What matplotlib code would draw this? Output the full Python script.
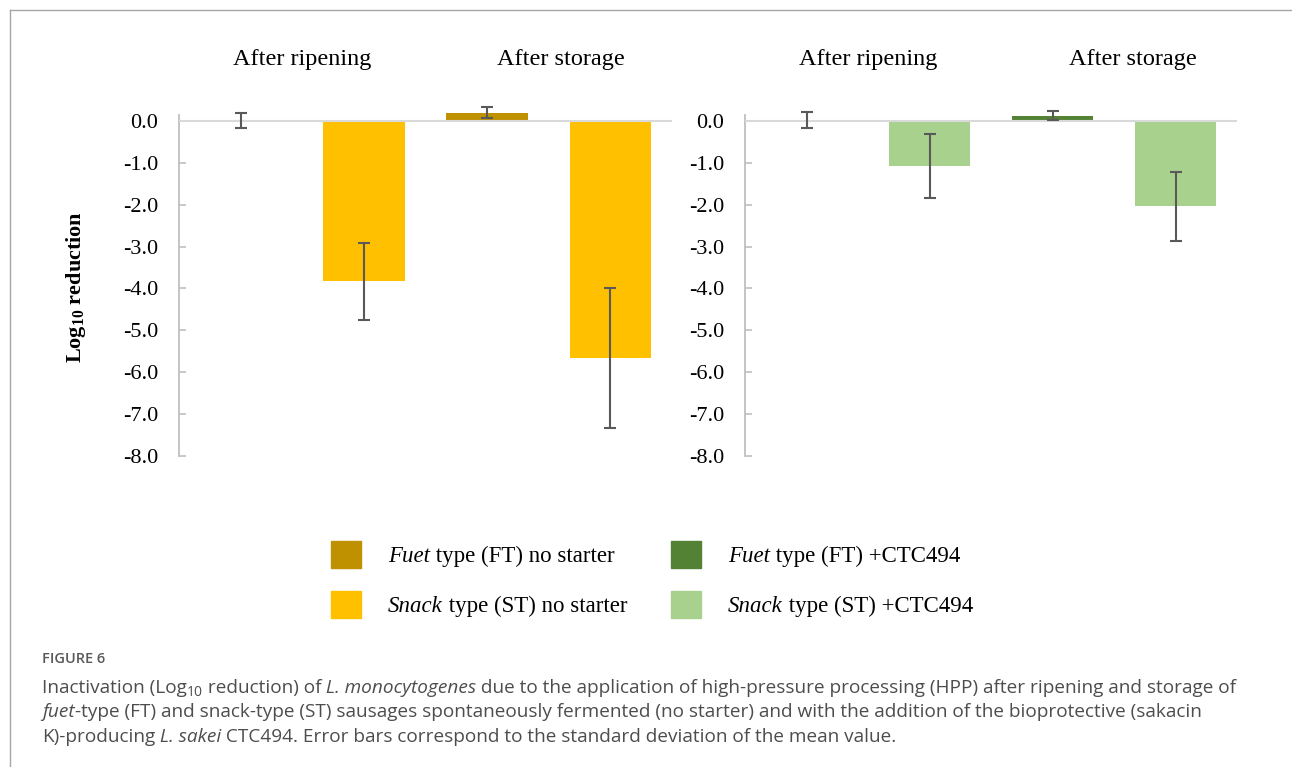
import matplotlib
matplotlib.use("Agg")
import numpy as np
import matplotlib.pyplot as plt
from matplotlib.patches import Rectangle
from matplotlib.lines import Line2D
from matplotlib.ticker import FormatStrFormatter

W, H = 1292, 767

# bars per panel: FT ripening, ST ripening, FT storage, ST storage
bar_pos = [0, 1, 2, 3]
categories = ["After ripening", "After storage"]
category_x_left = [0.5, 2.6]
category_x_right = [0.5, 2.65]

no_starter_mean = [0.01, -3.83, 0.20, -5.66]
no_starter_sd = [0.17, 0.92, 0.12, 1.67]
ctc494_mean = [0.02, -1.07, 0.12, -2.04]
ctc494_sd = [0.19, 0.76, 0.11, 0.82]

legend_labels = [
    ("Fuet", " type (FT) no starter"),
    ("Snack", " type (ST) no starter"),
    ("Fuet", " type (FT) +CTC494"),
    ("Snack", " type (ST) +CTC494"),
]
legend_colors = ["#BF9000", "#FFC000", "#548235", "#A9D18E"]

plt.rcParams["font.family"] = "Liberation Serif"
plt.rcParams["mathtext.fontset"] = "custom"
plt.rcParams["mathtext.rm"] = "Liberation Serif"
plt.rcParams["mathtext.bf"] = "Liberation Serif:bold"
plt.rcParams["mathtext.it"] = "Liberation Serif:italic"


def fx(px):
    return px / W


def fy(py):
    return 1 - py / H


def put_runs(fig, renderer, x, y, runs, **common):
    """Write text pieces one after another on a baseline (pixel coords)."""
    for text, style in runs:
        style = dict(style)
        dy = style.pop("dy", 0)
        t = fig.text(fx(x), fy(y - dy), text, ha="left", va="baseline",
                     **{**common, **style})
        x += t.get_window_extent(renderer).width
    return x


fig = plt.figure(figsize=(W / 100, H / 100), dpi=100)
renderer = fig.canvas.get_renderer()

ax_l = fig.add_axes([fx(179), fy(456), 493 / W, 377 / H])
ax_r = fig.add_axes([fx(745), fy(456), 492 / W, 377 / H])

panels = [
    (ax_l, no_starter_mean, no_starter_sd, legend_colors[0], legend_colors[1],
     category_x_left),
    (ax_r, ctc494_mean, ctc494_sd, legend_colors[2], legend_colors[3],
     category_x_right),
]

for ax, mean, sd, c_ft, c_st, cat_x in panels:
    ax.bar(bar_pos, mean, width=0.66, color=[c_ft, c_st, c_ft, c_st], zorder=2)
    ax.axhline(0, color="#d9d9d9", lw=1.5, zorder=3)
    ax.errorbar(bar_pos, mean, yerr=sd, fmt="none", ecolor="#595959",
                elinewidth=1.5, capsize=4, capthick=1.5, zorder=4)
    ax.set_xlim(-0.5, 3.5)
    ax.set_ylim(-8, 1)
    ax.set_xticks([])
    ax.set_yticks(np.arange(-8, 1, 1))
    ax.yaxis.set_major_formatter(FormatStrFormatter("%.1f"))
    for side in ("top", "right", "bottom"):
        ax.spines[side].set_visible(False)
    ax.spines["left"].set_bounds(-8, 0.15)
    ax.spines["left"].set_color("#bfbfbf")
    ax.spines["left"].set_linewidth(1.3)
    ax.tick_params(axis="y", direction="in", length=5, width=1.2,
                   color="#bfbfbf", pad=15, labelsize=16)
    ax.patch.set_visible(False)
    for x, name in zip(cat_x, categories):
        ax.text(x, 1.037, name, transform=ax.get_xaxis_transform(),
                ha="center", va="baseline", fontsize=17.5)

fig.text(fx(76), fy(287), r"Log$_{\mathbf{10}}$ reduction", rotation=90,
         ha="center", va="center", fontsize=16, fontweight="bold")

# legend, two columns under the panels
swatch_x = [331, 331, 671, 671]
text_x = [388, 388, 728, 728]
row_y = [562, 612, 562, 612]
for (it_word, rest), color, sx, tx, by in zip(legend_labels, legend_colors,
                                              swatch_x, text_x, row_y):
    fig.add_artist(Rectangle((fx(sx), fy(by + 6)), 30 / W, 27 / H,
                             transform=fig.transFigure, color=color))
    put_runs(fig, renderer, tx, by,
             [(it_word, {"style": "italic"}), (rest, {})], fontsize=16.5)

# frame around the figure block
fig.add_artist(Line2D([fx(9.5), 1], [fy(9.5), fy(9.5)], color="#a6a6a6",
                      lw=1, transform=fig.transFigure))
fig.add_artist(Line2D([fx(9.5), fx(9.5)], [fy(9.5), 0], color="#a6a6a6",
                      lw=1, transform=fig.transFigure))

# caption
cap = dict(family="Open Sans", fontsize=13.7, color="#4d4d4d")
sub = {"fontsize": 10, "dy": -3.5}
ital = {"style": "italic"}
fig.text(fx(42), fy(663), "FIGURE 6", family="Open Sans", fontsize=10.5,
         fontweight="semibold", color="#595959", ha="left", va="baseline")
put_runs(fig, renderer, 42, 693, [
    ("Inactivation (Log", {}), ("10", sub), (" reduction) of", {}),
    (" L. monocytogenes", ital),
    (" due to the application of high-pressure processing (HPP) after "
     "ripening and storage of", {}),
], **cap)
put_runs(fig, renderer, 42, 717, [
    ("fuet", ital),
    ("-type (FT) and snack-type (ST) sausages spontaneously fermented "
     "(no starter) and with the addition of the bioprotective (sakacin", {}),
], **cap)
put_runs(fig, renderer, 42, 742, [
    ("K)-producing", {}), (" L. sakei", ital),
    (" CTC494. Error bars correspond to the standard deviation of the "
     "mean value.", {}),
], **cap)

fig.savefig("out.png", dpi=100)
